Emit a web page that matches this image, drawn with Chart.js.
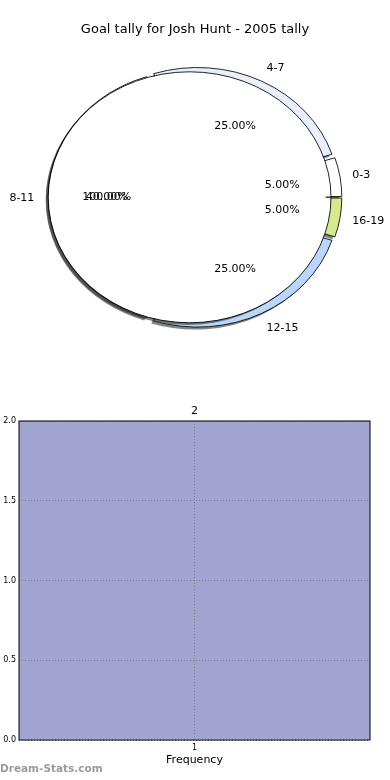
<!DOCTYPE html>
<html>
<head>
<meta charset="utf-8">
<script src="https://cdn.jsdelivr.net/npm/chart.js@4"></script>
<style>
  body { margin: 0; background: #fff; }
  #wrap { position: relative; width: 390px; height: 780px; overflow: hidden; }
  canvas { position: absolute; left: 0; }
  #mark { position: absolute; left: 0; top: 762px; font: bold 10.5px 'DejaVu Sans'; color: #9a9a9a; }
</style>
</head>
<body>
<div id="wrap">
  <canvas id="pieBase" width="390" height="357" style="top:0"></canvas>
  <canvas id="pieTop" width="390" height="357" style="top:0"></canvas>
  <canvas id="freqChart" width="390" height="380" style="top:400px"></canvas>
  <div id="mark">Dream-Stats.com</div>
</div>
<script>
// datos del grafico
const tallyLabels = ['0-3', '4-7', '8-11', '12-15', '16-19'];
const tallyValues = [1, 5, 8, 5, 1];
const overlayLabels = ['8-11'];
const overlayValues = [1];
const freqLabels = ['1'];
const freqValues = [2];

const sliceColors = {'0-3': '#ffffff', '4-7': '#e9f0fc', '8-11': '#ffffff', '12-15': '#b9d7fb', '16-19': '#d5ea8f'};

const R = 125.5;      // radio vertical
const SX = 1.127;     // estirado horizontal de la elipse
const TEXT_SX = 1.1;
const EXPLODE = 4.8;

// matplotlib va antihorario desde el este, Chart.js horario -> invertir
const cwLabels = tallyLabels.slice().reverse();
const cwValues = tallyValues.slice().reverse();

// Chart.js desplaza offset/4 y agranda el radio offset/4*fix
function explodeOffset(ctx) {
    const data = ctx.dataset.data;
    const total = data.reduce((a, b) => a + b, 0);
    const circ = data[ctx.dataIndex] / total * Math.PI * 2;
    const fix = 1 - Math.sin(Math.min(Math.PI, circ));
    return EXPLODE * 4 / (1 + fix);
}

// elipse + sombra + contorno opcional
function makeSquash(outline) {
    return {
        id: 'squash',
        beforeDatasetsDraw(chart) {
            const arcs = chart.getDatasetMeta(0).data;
            const a = arcs[0];
            const c = chart.ctx;
            c.save();
            c.translate(a.x, a.y);
            c.scale(SX, 1);
            c.translate(-a.x, -a.y);
            // sombra
            c.save();
            c.translate(-2.5 / SX, 2.5);
            arcs.forEach(arc => {
                const o = arc.options;
                arc.options = Object.assign({}, o, { backgroundColor: 'rgba(50,50,50,0.6)', borderWidth: 0 });
                arc.draw(c);
                arc.options = o;
            });
            c.restore();
        },
        afterDatasetsDraw(chart) {
            const c = chart.ctx;
            if (outline) {
                chart.getDatasetMeta(0).data.forEach(arc => {
                    const mid = (arc.startAngle + arc.endAngle) / 2;
                    c.beginPath();
                    c.arc(arc.x + Math.cos(mid) * EXPLODE, arc.y + Math.sin(mid) * EXPLODE, arc.outerRadius + EXPLODE, 0, Math.PI * 2);
                    c.lineWidth = 0.8;
                    c.strokeStyle = '#000';
                    c.stroke();
                });
            }
            c.restore();
        }
    };
}

function pieOptions(extra) {
    return Object.assign({
        responsive: false,
        animation: false,
        rotation: 90,
        events: [],
        plugins: { legend: { display: false }, tooltip: { enabled: false } }
    }, extra);
}

// Grafico base: los cinco sectores separados
const pieBase = new Chart(document.getElementById('pieBase'), {
    type: 'pie',
    data: {
        labels: cwLabels,
        datasets: [{
            data: cwValues,
            radius: R,
            backgroundColor: cwLabels.map(l => sliceColors[l]),
            borderColor: '#000',
            borderWidth: 0.8,
            offset: explodeOffset
        }]
    },
    options: pieOptions({
        plugins: {
            legend: { display: false },
            tooltip: { enabled: false },
            title: {
                display: true,
                text: 'Goal tally for Josh Hunt - 2005 tally',
                color: '#000',
                font: { family: 'DejaVu Sans', size: 13, weight: 'normal' },
                padding: { top: 22, bottom: 0 }
            }
        }
    }),
    plugins: [makeSquash(false)]
});

function drawPieText(chart, c, withNames) {
    const meta = chart.getDatasetMeta(0);
    const data = chart.data.datasets[0].data;
    const total = data.reduce((a, b) => a + b, 0);
    meta.data.forEach((arc, i) => {
        const mid = (arc.startAngle + arc.endAngle) / 2;
        const cs = Math.cos(mid), sn = Math.sin(mid);
        c.fillStyle = '#000';
        c.textBaseline = 'middle';
        c.textAlign = 'center';
        const pd = 0.6 * R + 5;
        c.fillText((data[i] / total * 100).toFixed(2) + '%', arc.x + pd * cs * TEXT_SX, arc.y + pd * sn);
        if (withNames) {
            const ld = 1.1 * R + 8;
            c.textAlign = cs >= 0 ? 'left' : 'right';
            c.fillText(chart.data.labels[i], arc.x + ld * cs * TEXT_SX - (cs >= 0 ? 1.5 : 0), arc.y + ld * sn + 1);
        }
    });
}

const pieText = {
    id: 'pieText',
    afterDraw(chart) {
        const c = chart.ctx;
        c.save();
        c.font = '11px "DejaVu Sans"';
        drawPieText(pieBase, c, true);
        drawPieText(chart, c, false);
        c.restore();
    }
};

// Circulo del 100% encima (circulo completo: desplaza offset/4 y crece offset/4)
new Chart(document.getElementById('pieTop'), {
    type: 'pie',
    data: {
        labels: overlayLabels,
        datasets: [{
            data: overlayValues,
            radius: R - EXPLODE,
            backgroundColor: '#ffffff',
            borderColor: '#ffffff',
            borderAlign: 'inner',
            borderWidth: 2,
            offset: EXPLODE * 4
        }]
    },
    options: pieOptions({ layout: { padding: { top: 37.6 } } }),
    plugins: [makeSquash(true), pieText]
});

// Histograma de frecuencia
const frame = {
    id: 'frame',
    afterDraw(chart) {
        const { ctx, chartArea: a } = chart;
        ctx.save();
        ctx.strokeStyle = '#000';
        ctx.lineWidth = 1;
        ctx.strokeRect(a.left, a.top, a.right - a.left, a.bottom - a.top);
        ctx.restore();
    }
};

new Chart(document.getElementById('freqChart'), {
    type: 'bar',
    data: {
        labels: freqLabels,
        datasets: [{
            data: freqValues,
            backgroundColor: '#a1a3d0',
            barPercentage: 1,
            categoryPercentage: 1
        }]
    },
    options: {
        responsive: false,
        animation: false,
        events: [],
        layout: { padding: { right: 20 } },
        plugins: {
            legend: { display: false },
            tooltip: { enabled: false }
        },
        scales: {
            x: {
                afterFit: s => { s.height = 40; },
                grid: { offset: false, color: '#808080', drawTicks: false, z: 1 },
                border: { display: false, dash: [1, 2] },
                ticks: { color: '#000', padding: 3, font: { family: 'DejaVu Sans', size: 8 } },
                title: {
                    display: true,
                    text: 'Frequency',
                    color: '#000',
                    font: { family: 'DejaVu Sans', size: 11 },
                    padding: { top: 0, bottom: 13 }
                }
            },
            // eje superior solo para el titulo "2" centrado sobre el area
            xTop: {
                type: 'category',
                position: 'top',
                labels: freqLabels,
                afterFit: s => { s.height = 21; },
                grid: { display: false },
                border: { display: false },
                ticks: { display: false },
                title: {
                    display: true,
                    text: '2',
                    color: '#000',
                    font: { family: 'DejaVu Sans', size: 11 },
                    padding: { top: 5, bottom: 0 }
                }
            },
            y: {
                min: 0,
                max: 2,
                afterFit: s => { s.width = 19; },
                grid: { color: '#808080', drawTicks: false, z: 1 },
                border: { display: false, dash: [1, 2] },
                ticks: {
                    stepSize: 0.5,
                    color: '#000',
                    padding: 3,
                    font: { family: 'DejaVu Sans', size: 8 },
                    callback: v => v.toFixed(1)
                }
            }
        }
    },
    plugins: [frame]
});
</script>
</body>
</html>
